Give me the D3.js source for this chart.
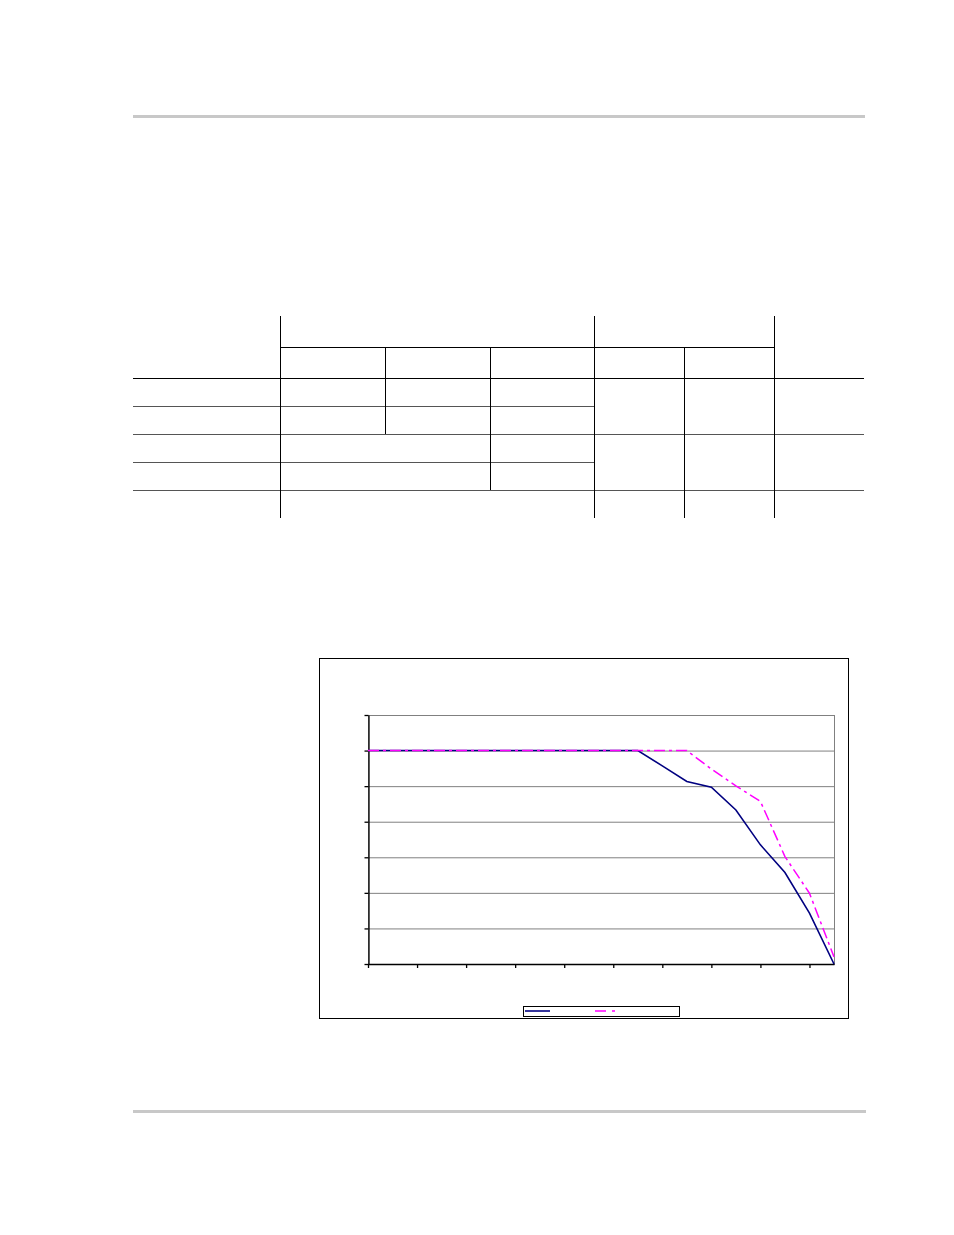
<!DOCTYPE html>
<html>
<head>
<meta charset="utf-8">
<script src="https://cdn.jsdelivr.net/npm/d3@7"></script>
<style>
  body { margin: 0; background: #fff; }
  svg { display: block; font-family: "Liberation Sans", Arial, sans-serif; }
</style>
</head>
<body>
<div id="page"></div>
<script>
// Series values, 20 points, y axis 0..7
const pointIndex = d3.range(20);
const seriesSolid = [6, 6, 6, 6, 6, 6, 6, 6, 6, 6, 6, 6, 5.57, 5.13, 4.97, 4.33, 3.35, 2.57, 1.43, 0];
const seriesDashDot = [6, 6, 6, 6, 6, 6, 6, 6, 6, 6, 6, 6, 6, 6, 5.48, 5.01, 4.57, 3.02, 1.99, 0.2];
const yTicks = [0, 1, 2, 3, 4, 5, 6, 7];
const xTickIndex = [0, 2, 4, 6, 8, 10, 12, 14, 16, 18];

// Table rules of the page (no text in the reference)
const tableCols = [133, 280, 385, 490, 594, 684, 774, 864];
const tableRows = [316, 347, 378, 406, 434, 462, 490, 518];

const W = 954, H = 1235;
const svg = d3.select('#page').append('svg')
    .attr('width', W)
    .attr('height', H);

// Header and footer rules
svg.append('rect').attr('x', 133).attr('y', 115).attr('width', 732).attr('height', 3).attr('fill', '#c8c8c8');
svg.append('rect').attr('x', 133).attr('y', 1110).attr('width', 733).attr('height', 3).attr('fill', '#c8c8c8');

// Table
const c = tableCols, r = tableRows;
const hLines = [
    { x1: c[1], x2: c[6], y: r[1], col: '#000' },
    { x1: c[0], x2: c[7], y: r[2], col: '#000' },
    { x1: c[0], x2: c[4], y: r[3], col: '#555' },
    { x1: c[0], x2: c[7], y: r[4], col: '#555' },
    { x1: c[0], x2: c[4], y: r[5], col: '#555' },
    { x1: c[0], x2: c[7], y: r[6], col: '#555' }
];
const vLines = [
    { x: c[1], y1: r[0], y2: r[7] },
    { x: c[2], y1: r[1], y2: r[4] },
    { x: c[3], y1: r[1], y2: r[6] },
    { x: c[4], y1: r[0], y2: r[7] },
    { x: c[5], y1: r[1], y2: r[7] },
    { x: c[6], y1: r[0], y2: r[7] }
];
const table = svg.append('g').attr('class', 'table');
table.selectAll('line.h').data(hLines).join('line')
    .attr('class', 'h')
    .attr('x1', d => d.x1).attr('x2', d => d.x2)
    .attr('y1', d => d.y + 0.5).attr('y2', d => d.y + 0.5)
    .attr('stroke', d => d.col).attr('stroke-width', 1);
table.selectAll('line.v').data(vLines).join('line')
    .attr('class', 'v')
    .attr('x1', d => d.x + 0.5).attr('x2', d => d.x + 0.5)
    .attr('y1', d => d.y1).attr('y2', d => d.y2)
    .attr('stroke', '#000').attr('stroke-width', 1);

// Chart frame
svg.append('rect')
    .attr('x', 319.5).attr('y', 658.5)
    .attr('width', 529).attr('height', 360)
    .attr('fill', '#fff').attr('stroke', '#000').attr('stroke-width', 1);

const plot = { left: 368, right: 834, top: 715, bottom: 964 };

const x = d3.scaleLinear().domain([0, 19]).range([plot.left, plot.right]);
const y = d3.scaleLinear().domain([0, 7]).range([plot.bottom, plot.top]);

// Plot area border (gray) and gridlines
svg.append('rect')
    .attr('x', plot.left + 0.5).attr('y', plot.top + 0.5)
    .attr('width', plot.right - plot.left).attr('height', plot.bottom - plot.top)
    .attr('fill', 'none').attr('stroke', '#808080').attr('stroke-width', 1);

svg.append('g')
    .attr('class', 'grid')
    .attr('transform', `translate(${plot.left},0)`)
    .call(d3.axisLeft(y).tickValues(yTicks.slice(1)).tickSize(-(plot.right - plot.left)).tickFormat(''))
    .call(g => g.select('.domain').remove())
    .call(g => g.selectAll('line').attr('stroke', '#808080'));

// Axes
svg.append('g')
    .attr('class', 'axis')
    .attr('transform', `translate(${plot.left + 0.5},0)`)
    .call(d3.axisLeft(y).tickValues(yTicks).tickSize(4).tickSizeOuter(0).tickFormat(''))
    .call(g => g.selectAll('line, path').attr('stroke', '#000').attr('stroke-width', 1.3));

svg.append('g')
    .attr('class', 'axis')
    .attr('transform', `translate(0,${plot.bottom})`)
    .call(d3.axisBottom(x).tickValues(xTickIndex).tickSize(4).tickSizeOuter(0).tickFormat(''))
    .call(g => g.selectAll('line, path').attr('stroke', '#000').attr('stroke-width', 1.3));

// Lines: solid navy first, dash-dot magenta on top
const line = d3.line().x((d, i) => x(pointIndex[i])).y(d => y(d));

svg.append('path')
    .datum(seriesSolid)
    .attr('d', line)
    .attr('fill', 'none')
    .attr('stroke', '#000080')
    .attr('stroke-width', 1.6);

svg.append('path')
    .datum(seriesDashDot)
    .attr('d', line)
    .attr('fill', 'none')
    .attr('stroke', '#ff00ff')
    .attr('stroke-width', 1.5)
    .attr('stroke-dasharray', '11,4,3,4');

// Legend (no labels visible in the reference)
const legend = svg.append('g').attr('class', 'legend');
legend.append('rect')
    .attr('x', 523.5).attr('y', 1006.5)
    .attr('width', 156).attr('height', 10)
    .attr('fill', '#fff').attr('stroke', '#000').attr('stroke-width', 1);
legend.append('line')
    .attr('x1', 525).attr('x2', 550).attr('y1', 1011).attr('y2', 1011)
    .attr('stroke', '#000080').attr('stroke-width', 1.6);
legend.append('line')
    .attr('x1', 595).attr('x2', 616).attr('y1', 1011).attr('y2', 1011)
    .attr('stroke', '#ff00ff').attr('stroke-width', 1.5)
    .attr('stroke-dasharray', '11,6,3,4');
</script>
</body>
</html>
